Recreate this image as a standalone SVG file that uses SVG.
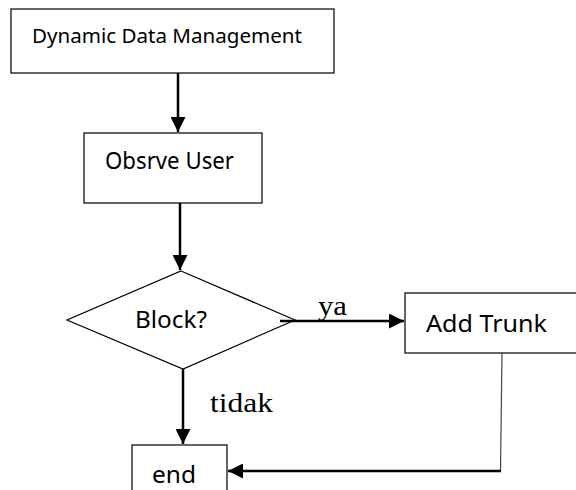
<svg xmlns="http://www.w3.org/2000/svg" width="576" height="490" viewBox="0 0 576 490">
  <style>
    .box { fill: #ffffff; stroke: #000000; stroke-width: 1.2; }
    .lbl { font-family: "Noto Sans", "Open Sans", sans-serif; fill: #000000; }
    .edge-lbl { font-family: "Liberation Serif", "Times New Roman", serif; fill: #000000; }
    .flow { fill: none; stroke: #000000; stroke-width: 2.5; }
  </style>
  <defs>
    <marker id="head" viewBox="0 0 10 10" refX="10" refY="5" markerWidth="6" markerHeight="6" markerUnits="strokeWidth" orient="auto">
      <path d="M0,0 L10,5 L0,10 Z" fill="#000000"/>
    </marker>
  </defs>
  <rect width="576" height="490" fill="#ffffff"/>

  <g id="node-dynamic">
    <rect class="box" x="11" y="9" width="323" height="64"/>
    <text class="lbl" x="32" y="43" font-size="19" textLength="270" lengthAdjust="spacingAndGlyphs">Dynamic Data Management</text>
  </g>

  <g id="node-observe">
    <rect class="box" x="84" y="133" width="178" height="70"/>
    <text class="lbl" x="105" y="169" font-size="23" textLength="129" lengthAdjust="spacingAndGlyphs">Obsrve User</text>
  </g>

  <g id="node-block">
    <polygon class="box" points="181,271 295,320 183,369 67,320"/>
    <text class="lbl" x="135" y="328" font-size="23" textLength="72" lengthAdjust="spacingAndGlyphs">Block?</text>
  </g>

  <g id="node-trunk">
    <rect class="box" x="405" y="293" width="180" height="60"/>
    <text class="lbl" x="426" y="332" font-size="24" textLength="121" lengthAdjust="spacingAndGlyphs">Add Trunk</text>
  </g>

  <g id="node-end">
    <rect class="box" x="132" y="445" width="95" height="60"/>
    <text class="lbl" x="152" y="483" font-size="24" textLength="44" lengthAdjust="spacingAndGlyphs">end</text>
  </g>

  <g id="connectors">
    <line class="flow" x1="178" y1="73" x2="178" y2="132" marker-end="url(#head)"/>
    <line class="flow" x1="180" y1="203" x2="180" y2="270" marker-end="url(#head)"/>
    <line class="flow" x1="280" y1="321" x2="404" y2="321" marker-end="url(#head)"/>
    <line class="flow" x1="183" y1="369" x2="183" y2="444" marker-end="url(#head)"/>
    <line x1="502" y1="353" x2="500.5" y2="471" stroke="#444444" stroke-width="1.2"/>
    <line class="flow" x1="501" y1="471" x2="228" y2="471" marker-end="url(#head)"/>
    <text class="edge-lbl" x="318" y="315" font-size="28" textLength="29" lengthAdjust="spacingAndGlyphs">ya</text>
    <text class="edge-lbl" x="210" y="412" font-size="28" textLength="63" lengthAdjust="spacingAndGlyphs">tidak</text>
  </g>
</svg>
